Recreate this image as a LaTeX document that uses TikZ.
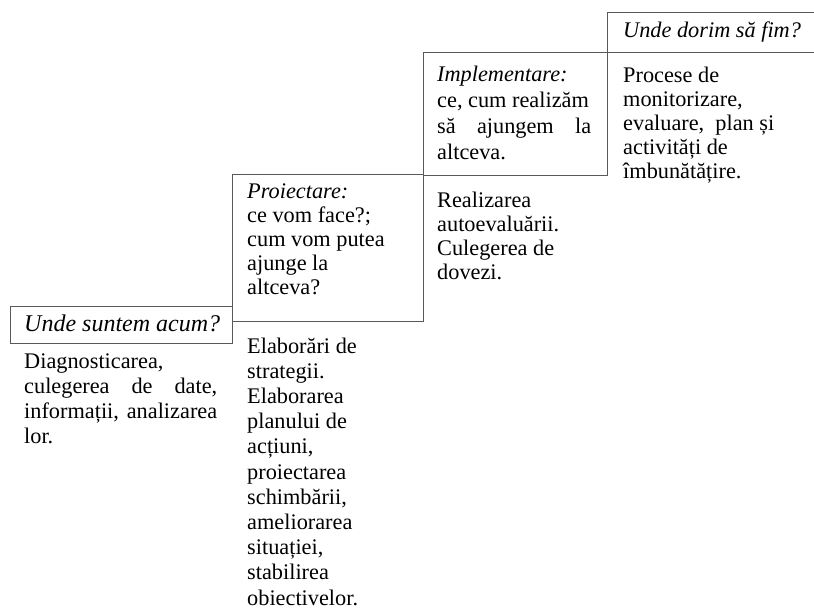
\documentclass[tikz,border=0pt]{standalone}
\usepackage{fontspec}
\setmainfont{Liberation Serif}
\usepackage{tikz}

\newcommand{\skipfont}[1]{\fontsize{22.3}{#1}\selectfont}

\begin{document}
\begin{tikzpicture}[x=1pt, y=-1pt,
  every node/.style={inner sep=0pt, anchor=base west, align=left, font=\skipfont{25}},
  textblock/.style={anchor=north west, execute at begin node=\strut},
  frame/.style={draw=black!65, line width=0.9pt}]

\useasboundingbox (0,0) rectangle (814,609);

\coordinate (A) at (10, 306);
\coordinate (B) at (232, 343);
\coordinate (C) at (232, 174);
\coordinate (D) at (423, 321);
\coordinate (E) at (423, 52);
\coordinate (F) at (607, 175);
\coordinate (G) at (607, 12);
\coordinate (H) at (814, 52);

\draw[frame] (A) rectangle (B);
\draw[frame] (C) rectangle (D);
\draw[frame] (E) rectangle (F);
\draw[frame] (F) -- (G) -- (G -| H);
\draw[frame] (E) -- (H);

\node (now) at (24, 332) {\fontsize{24}{25}\selectfont\itshape Unde suntem acum?};
\node[textblock] (nowtext) at (24, 353.5) {Diagnosticarea,\\ \makebox[193pt][s]{culegerea de date,}\\ \makebox[193pt][s]{informații, analizarea}\\ lor.};

\node[textblock, font=\skipfont{24}] (plan) at (247, 183.2) {\textit{Proiectare:}\\ ce vom face?;\\ cum vom putea\\ ajunge la\\ altceva?};
\node[textblock, font=\skipfont{25.2}] (plantext) at (247, 337.4) {Elaborări de\\ strategii.\\ Elaborarea\\ planului de\\ acțiuni,\\ proiectarea\\ schimbării,\\ ameliorarea\\ situației,\\ stabilirea\\ obiectivelor.};

\node[textblock, font=\skipfont{26}] (impl) at (437, 65.8) {\textit{Implementare:}\\ ce, cum realizăm\\ \makebox[154pt][s]{să ajungem la}\\ altceva.};
\node[textblock, font=\skipfont{24}] (impltext) at (437, 192.2) {Realizarea\\ autoevaluării.\\ Culegerea de\\ dovezi.};

\node (goal) at (623, 38) {\itshape Unde dorim să fim?};
\node[textblock, font=\skipfont{24}] (goaltext) at (623, 67.2) {Procese de\\ monitorizare,\\ evaluare,\ \ plan și\\ activități de\\ îmbunătățire.};

\end{tikzpicture}
\end{document}
